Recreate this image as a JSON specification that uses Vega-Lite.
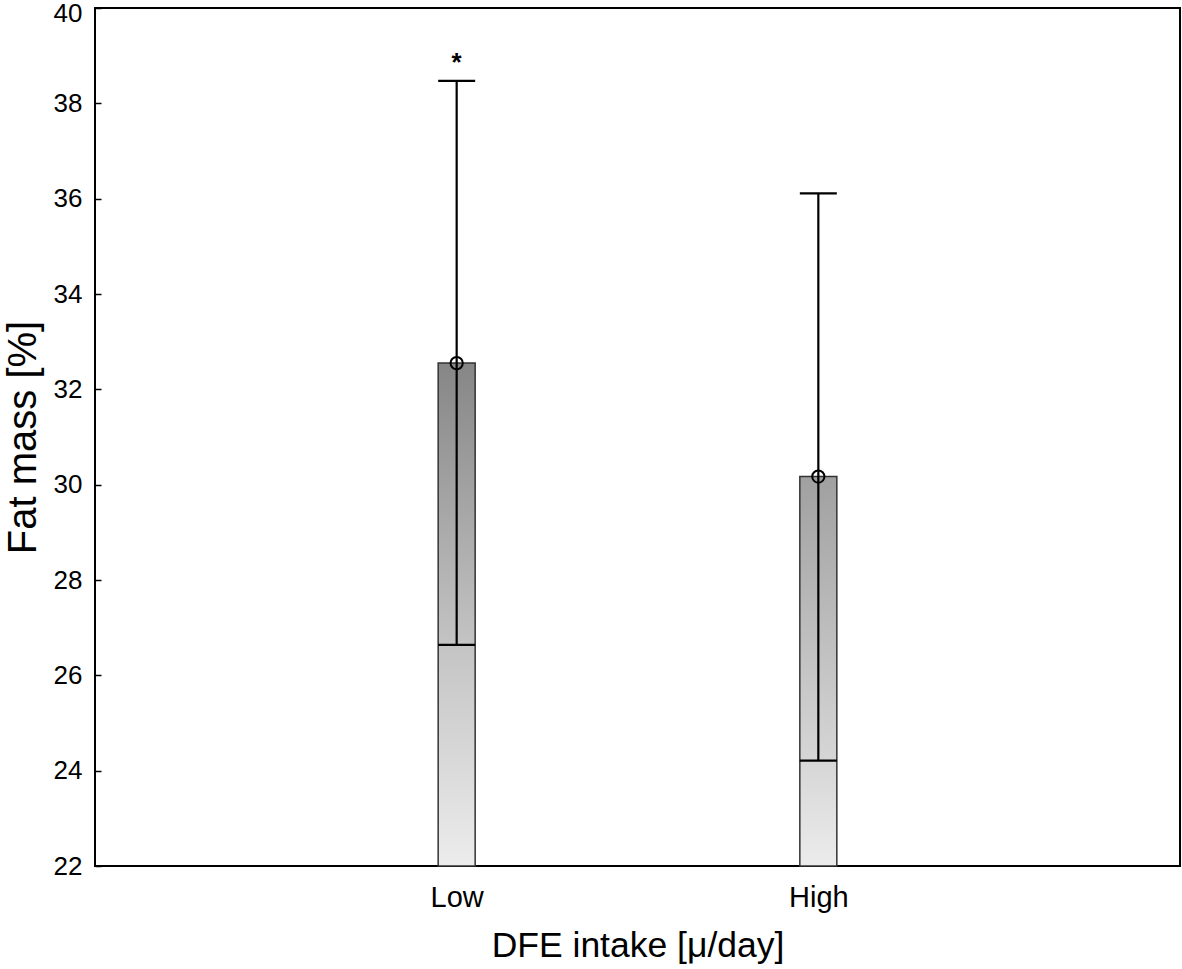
{
  "$schema": "https://vega.github.io/schema/vega-lite/v6.json",
  "width": 1085,
  "height": 858,
  "autosize": {"type": "none"},
  "padding": {"left": 95, "top": 8, "right": 2, "bottom": 103},
  "background": "white",
  "config": {
    "font": "Liberation Sans",
    "view": {"stroke": "black", "strokeWidth": 2},
    "axis": {"grid": false, "domain": false, "tickColor": "black", "tickWidth": 1.5, "labelColor": "black", "titleColor": "black", "titleFontWeight": "normal", "labelFont": "Liberation Sans", "titleFont": "Liberation Sans"}
  },
  "data": {
    "values": [
      {"group": "Low", "mean": 32.55, "lo": 26.64, "hi": 38.47, "star": "*"},
      {"group": "High", "mean": 30.17, "lo": 24.21, "hi": 36.11, "star": ""}
    ]
  },
  "encoding": {
    "x": {
      "field": "group", "type": "nominal", "sort": ["Low", "High"],
      "scale": {"type": "point", "padding": 1},
      "axis": {"title": "DFE intake [μ/day]", "labelAngle": 0, "labelFontSize": 29, "titleFontSize": 35.5, "tickSize": -6, "labelPadding": 23, "titlePadding": 16}
    }
  },
  "layer": [
    {
      "transform": [{"filter": "datum.group == 'Low'"}],
      "mark": {"type": "bar", "size": 37, "stroke": "#333333", "strokeWidth": 1.5,
        "fill": {"gradient": "linear", "x1": 0, "y1": 1, "x2": 0, "y2": 0,
          "stops": [{"offset": 0, "color": "#ececec"}, {"offset": 0.436, "color": "#c4c4c4"}, {"offset": 1, "color": "#868686"}]}},
      "encoding": {
        "y": {"field": "mean", "type": "quantitative", "scale": {"domain": [22, 40], "zero": false, "nice": false},
          "axis": {"title": "Fat mass [%]", "values": [22, 24, 26, 28, 30, 32, 34, 36, 38, 40], "labelFontSize": 26, "titleFontSize": 40, "tickSize": -6, "labelPadding": 19, "titlePadding": 10,
            "labelOffset": {"condition": {"test": "datum.value == 40", "value": 5}, "value": 0}}},
        "y2": {"datum": 22}
      }
    },
    {
      "transform": [{"filter": "datum.group == 'High'"}],
      "mark": {"type": "bar", "size": 37, "stroke": "#333333", "strokeWidth": 1.5,
        "fill": {"gradient": "linear", "x1": 0, "y1": 1, "x2": 0, "y2": 0,
          "stops": [{"offset": 0, "color": "#ececec"}, {"offset": 0.27, "color": "#d6d6d6"}, {"offset": 1, "color": "#a0a0a0"}]}},
      "encoding": {
        "y": {"field": "mean", "type": "quantitative"},
        "y2": {"datum": 22}
      }
    },
    {
      "mark": {"type": "rule", "color": "black", "strokeWidth": 2.2},
      "encoding": {
        "y": {"field": "lo", "type": "quantitative"},
        "y2": {"field": "hi"}
      }
    },
    {
      "mark": {"type": "tick", "orient": "horizontal", "color": "black", "size": 37, "thickness": 2.2, "opacity": 1},
      "encoding": {"y": {"field": "hi", "type": "quantitative"}}
    },
    {
      "mark": {"type": "tick", "orient": "horizontal", "color": "black", "size": 37, "thickness": 2.2, "opacity": 1},
      "encoding": {"y": {"field": "lo", "type": "quantitative"}}
    },
    {
      "mark": {"type": "point", "shape": "circle", "filled": false, "color": "black", "size": 150, "strokeWidth": 2, "opacity": 1},
      "encoding": {"y": {"field": "mean", "type": "quantitative"}}
    },
    {
      "mark": {"type": "text", "fontSize": 26, "fontWeight": "bold", "color": "black", "baseline": "bottom", "dy": -5},
      "encoding": {
        "y": {"field": "hi", "type": "quantitative"},
        "text": {"field": "star"}
      }
    }
  ]
}
